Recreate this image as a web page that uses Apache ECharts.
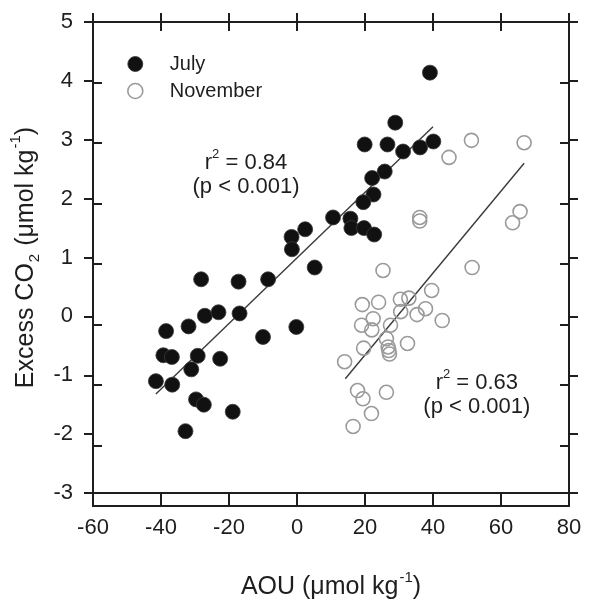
<!DOCTYPE html>
<html>
<head>
<meta charset="utf-8">
<script src="https://cdn.jsdelivr.net/npm/echarts@6/dist/echarts.min.js"></script>
<style>
  html, body { margin: 0; padding: 0; background: #fff; }
  #chart { width: 592px; height: 605px; }
</style>
</head>
<body>
<div id="chart"></div>
<script>
// ---- data ----
var julyX = [39.1, 28.9, 19.9, 26.6, 31.2, 36.2, 40.1, 25.8, 22.1, 22.5, 19.5, 10.6, 15.7, 16.0, 19.7, 22.7, 2.4, -1.6, -1.5, 5.2, -28.2, -17.2, -8.5, -27.1, -23.1, -16.9, -31.9, -38.5, -10.0, -0.2, -39.3, -36.8, -29.2, -22.6, -31.1, -41.5, -36.7, -29.7, -27.4, -18.9, -32.8];
var julyY = [4.14, 3.29, 2.92, 2.92, 2.80, 2.87, 2.97, 2.46, 2.35, 2.07, 1.94, 1.68, 1.66, 1.50, 1.50, 1.39, 1.48, 1.35, 1.14, 0.83, 0.63, 0.59, 0.63, 0.01, 0.07, 0.05, -0.17, -0.25, -0.35, -0.18, -0.66, -0.69, -0.67, -0.72, -0.90, -1.10, -1.16, -1.41, -1.50, -1.62, -1.95];

var novX = [51.3, 66.8, 44.7, 36.1, 36.1, 65.6, 63.4, 25.3, 51.5, 39.6, 19.2, 24.0, 30.4, 32.9, 37.8, 35.3, 30.5, 22.4, 19.0, 27.5, 42.7, 22.0, 32.5, 26.3, 26.8, 27.0, 27.2, 19.6, 14.0, 17.8, 19.4, 26.3, 21.9, 16.5];
var novY = [2.99, 2.95, 2.70, 1.68, 1.62, 1.78, 1.59, 0.78, 0.83, 0.44, 0.20, 0.24, 0.29, 0.31, 0.13, 0.03, 0.08, -0.04, -0.15, -0.15, -0.07, -0.23, -0.46, -0.38, -0.52, -0.58, -0.64, -0.54, -0.77, -1.26, -1.40, -1.29, -1.65, -1.87];

var julyFitX = [-41.5, 40.0];
var julyFitY = [-1.32, 3.22];
var novFitX = [14.2, 66.8];
var novFitY = [-1.06, 2.60];

var xTicks = [-60, -40, -20, 0, 20, 40, 60, 80];
var yTicks = [-3, -2, -1, 0, 1, 2, 3, 4, 5];
var seriesNames = ['July', 'November'];
var stats = [
  { r2: '0.84', p: '(p < 0.001)' },
  { r2: '0.63', p: '(p < 0.001)' }
];

function zip(a, b) { return a.map(function (v, i) { return [v, b[i]]; }); }

var FONT = "'Liberation Sans', Arial, Helvetica, sans-serif";
var INK = '#1e1e1e';
var GRID = { left: 93, top: 22, width: 476, height: 484 };

function xAxisDef(grid, pos, showLabel, inside) {
  return {
    type: 'value', gridIndex: grid, position: pos,
    min: xTicks[0], max: xTicks[xTicks.length - 1], interval: 20,
    splitLine: { show: false },
    axisLine: { show: true, onZero: false, lineStyle: { color: INK, width: 2 } },
    axisTick: { show: true, inside: inside, length: 9, lineStyle: { color: INK, width: 2 } },
    axisLabel: { show: showLabel, margin: 24, color: INK, fontSize: 22, fontFamily: FONT },
    name: showLabel ? '{a|AOU (\u03bcmol kg}{s|-1}{a|)}' : '',
    nameLocation: 'middle', nameGap: 77,
    nameTextStyle: { color: INK, fontFamily: FONT,
      rich: { a: { fontSize: 25, fontFamily: FONT, color: INK, lineHeight: 30, verticalAlign: 'bottom' },
              s: { fontSize: 15, fontFamily: FONT, color: INK, lineHeight: 30, verticalAlign: 'top', padding: [0, 0, 0, 1] } } }
  };
}
function yAxisDef(grid, pos, showLabel, inside) {
  return {
    type: 'value', gridIndex: grid, position: pos,
    min: yTicks[0], max: yTicks[yTicks.length - 1], interval: 1,
    splitLine: { show: false },
    axisLine: { show: true, onZero: false, lineStyle: { color: INK, width: 2 } },
    axisTick: { show: true, inside: inside, length: 9, lineStyle: { color: INK, width: 2 } },
    axisLabel: { show: showLabel, margin: 20, color: INK, fontSize: 22, fontFamily: FONT },
    name: showLabel ? '{a|Excess CO}{b|2}{a| (\u03bcmol kg}{s|-1}{a|)}' : '',
    nameLocation: 'middle', nameGap: 52, nameRotate: 90,
    nameTextStyle: { color: INK, fontFamily: FONT,
      rich: { a: { fontSize: 25, fontFamily: FONT, color: INK, lineHeight: 30, verticalAlign: 'bottom' },
              b: { fontSize: 15, fontFamily: FONT, color: INK, lineHeight: 30, verticalAlign: 'bottom', padding: [0, 1, -4, 1] },
              s: { fontSize: 15, fontFamily: FONT, color: INK, lineHeight: 30, verticalAlign: 'top', padding: [0, 0, 0, 1] } } }
  };
}

var chart = echarts.init(document.getElementById('chart'), null, { renderer: 'canvas' });

var option = {
  backgroundColor: '#fff',
  animation: false,
  textStyle: { fontFamily: FONT },
  grid: [
    Object.assign({ containLabel: false }, GRID),
    Object.assign({ containLabel: false }, GRID)
  ],
  xAxis: [
    xAxisDef(0, 'bottom', true, false),
    xAxisDef(0, 'top', false, false),
    xAxisDef(1, 'bottom', false, true),
    xAxisDef(1, 'top', false, true)
  ],
  yAxis: [
    yAxisDef(0, 'left', true, false),
    yAxisDef(0, 'right', false, false),
    yAxisDef(1, 'left', false, true),
    yAxisDef(1, 'right', false, true)
  ],
  legend: {
    orient: 'vertical', left: 127, top: 54, padding: 0,
    itemWidth: 15, itemHeight: 15, itemGap: 7,
    textStyle: { fontSize: 20, fontFamily: FONT, color: INK, lineHeight: 20, padding: [0, 0, 0, 22] },
    data: [
      { name: seriesNames[0], icon: 'circle', itemStyle: { color: '#111', borderColor: '#333', borderWidth: 0.8 } },
      { name: seriesNames[1], icon: 'circle', itemStyle: { color: '#fff', borderColor: '#9a9a9a', borderWidth: 1.6 } }
    ]
  },
  series: [
    {
      name: 'julyFit', type: 'line', xAxisIndex: 0, yAxisIndex: 0,
      data: zip(julyFitX, julyFitY), symbol: 'none', silent: true,
      lineStyle: { color: '#3a3a3a', width: 1.4 }, z: 1
    },
    {
      name: 'novFit', type: 'line', xAxisIndex: 0, yAxisIndex: 0,
      data: zip(novFitX, novFitY), symbol: 'none', silent: true,
      lineStyle: { color: '#3a3a3a', width: 1.4 }, z: 1
    },
    {
      name: seriesNames[1], type: 'scatter', xAxisIndex: 0, yAxisIndex: 0,
      data: zip(novX, novY), symbol: 'circle', symbolSize: 14,
      itemStyle: { color: 'rgba(255,255,255,0)', borderColor: '#9a9a9a', borderWidth: 1.6, opacity: 1 },
      z: 2
    },
    {
      name: seriesNames[0], type: 'scatter', xAxisIndex: 0, yAxisIndex: 0,
      data: zip(julyX, julyY), symbol: 'circle', symbolSize: 15,
      itemStyle: { color: '#111', borderColor: '#3a3a3a', borderWidth: 0.8, opacity: 1 },
      z: 3
    }
  ]
};
chart.setOption(option);

// statistics annotations anchored in data space
var annotAnchors = [[-15, 2.42], [52.9, -1.32]];
var graphics = [];
annotAnchors.forEach(function (a, i) {
  var p = chart.convertToPixel({ gridIndex: 0 }, a);
  graphics.push({
    type: 'text', x: p[0], y: p[1] - 13,
    style: {
      text: '{a|r}{s|2}{a| = ' + stats[i].r2 + '}',
      rich: { a: { fontSize: 22, fontFamily: FONT, fill: INK, lineHeight: 26, verticalAlign: 'bottom' },
              s: { fontSize: 13, fontFamily: FONT, fill: INK, lineHeight: 26, verticalAlign: 'top' } },
      align: 'center', verticalAlign: 'middle', fill: INK
    }
  });
  graphics.push({
    type: 'text', x: p[0], y: p[1] + 13,
    style: { text: stats[i].p, fontSize: 22, fontFamily: FONT, fill: INK, align: 'center', verticalAlign: 'middle' }
  });
});
chart.setOption({ graphic: graphics });
</script>
</body>
</html>
